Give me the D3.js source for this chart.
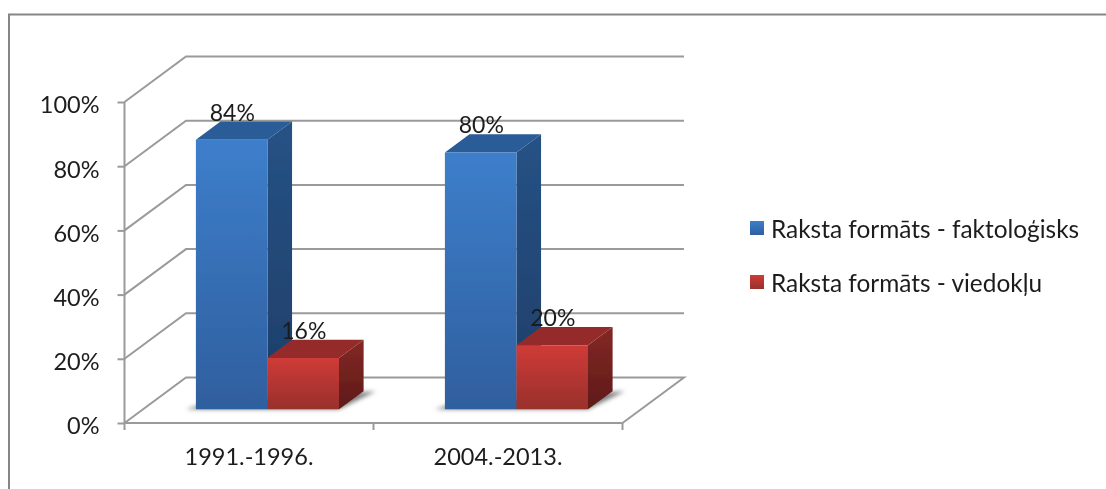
<!DOCTYPE html>
<html>
<head>
<meta charset="utf-8">
<script src="https://cdnjs.cloudflare.com/ajax/libs/d3/7.8.5/d3.min.js"></script>
<style>
body { margin: 0; background: #fff; overflow: hidden; }
text { font-family: Lato, "Open Sans", sans-serif; fill: #1c1c1c; }
</style>
</head>
<body>
<div id="chart"></div>
<script>
const categories = ['1991.-1996.', '2004.-2013.'];
const seriesNames = ['Raksta formāts - faktoloģisks', 'Raksta formāts - viedokļu'];
const factual = [84, 80];
const opinion = [16, 20];
const yTicks = [0, 20, 40, 60, 80, 100];

const width = 1106, height = 489;

const svg = d3.select('#chart').append('svg')
    .attr('width', width)
    .attr('height', height)
    .style('display', 'block');

const defs = svg.append('defs');

// slight softness, the reference is a scaled up screenshot
defs.append('filter').attr('id', 'soft')
    .attr('filterUnits', 'userSpaceOnUse')
    .attr('x', 0).attr('y', 0).attr('width', width).attr('height', height)
    .append('feGaussianBlur').attr('stdDeviation', 0.45);
defs.append('filter').attr('id', 'shadow')
    .attr('x', '-20%').attr('y', '-30%').attr('width', '140%').attr('height', '160%')
    .append('feGaussianBlur').attr('stdDeviation', 2);

const addGrad = (id, top, bottom) => {
    const g = defs.append('linearGradient').attr('id', id)
        .attr('x1', 0).attr('y1', 0).attr('x2', 0).attr('y2', 1);
    g.append('stop').attr('offset', '0%').attr('stop-color', top);
    g.append('stop').attr('offset', '100%').attr('stop-color', bottom);
};
addGrad('blueFront', '#3d7ecb', '#2f5f9e');
addGrad('blueSide', '#265285', '#1d3d68');
addGrad('redFront', '#cf3b37', '#98302c');
addGrad('redSide', '#842825', '#5e1a18');

const root = svg.append('g').attr('filter', 'url(#soft)');

// outer frame, only the top and left edges are in the picture
root.append('path')
    .attr('d', d3.line()([[9, 489], [9, 14.5], [1106, 14.5]]))
    .attr('fill', 'none')
    .attr('stroke', '#868686')
    .attr('stroke-width', 2);

const x = d3.scaleBand().domain(categories).range([124.5, 622.5]);
const y = d3.scaleLinear().domain([0, 100]).range([423, 102]);

// oblique projection: depth 0 is the front edge of the floor, 1 the back wall
const depthX = d3.scaleLinear().domain([0, 1]).range([0, 61.5]);
const depthY = d3.scaleLinear().domain([0, 1]).range([0, -45.5]);
const project = (px, value, depth) => [px + depthX(depth), y(value) + depthY(depth)];

const barInner = d3.scaleBand().domain(d3.range(2))
    .range([0, x.bandwidth()]).paddingInner(0).paddingOuter(0.74);

const gridColor = '#9a9a9a';
const xRight = x.range()[1], xLeft = x.range()[0];
const line = d3.line();

// walls and floor
const grid = root.append('g').attr('fill', 'none').attr('stroke', gridColor).attr('stroke-width', 2);
yTicks.forEach(t => {
    const pts = t === 0
        ? [project(xLeft, t, 0), project(xLeft, t, 1), project(xRight, t, 1), project(xRight, t, 0)]
        : [project(xLeft, t, 0), project(xLeft, t, 1), project(xRight, t, 1)];
    grid.append('path').attr('d', line(pts));
});
grid.append('path').attr('d', line([project(xLeft, 100, 0), project(xLeft, 0, 0), project(xRight, 0, 0)]));

// axes
const yAxis = d3.axisLeft(y).tickValues(yTicks).tickFormat(d => d + '%').tickSize(6).tickPadding(19);
const yG = root.append('g').attr('transform', `translate(${xLeft},0)`).call(yAxis);
yG.select('.domain').remove();
yG.selectAll('line').attr('x2', -7).attr('stroke', gridColor).attr('stroke-width', 2);
yG.selectAll('text').attr('font-size', 23.5).attr('font-family', null).attr('dy', '0.46em');

const xAxis = d3.axisBottom(x).tickSize(0).tickPadding(25);
const xG = root.append('g').attr('transform', `translate(0,${y(0)})`).call(xAxis);
xG.select('.domain').remove();
xG.selectAll('line').remove();
xG.selectAll('text').attr('font-size', 23.5).attr('font-family', null);
xG.selectAll('.edge')
    .data([xLeft, xLeft + x.step(), xRight])
    .join('line')
    .attr('class', 'edge')
    .attr('x1', d => d).attr('x2', d => d)
    .attr('y1', 0).attr('y2', 7)
    .attr('stroke', gridColor).attr('stroke-width', 2);

// bars sit between depth 0.3 and 0.7
const d0 = 0.3, d1 = 0.7;
const bars = [];
categories.forEach((c, i) => {
    bars.push({ c, s: 0, v: factual[i], front: 'blueFront', side: 'blueSide', top: '#2b5c98' });
    bars.push({ c, s: 1, v: opinion[i], front: 'redFront', side: 'redSide', top: '#952c29' });
});
const barX = d => x(d.c) + barInner(d.s);
const barW = barInner.bandwidth();

// floor shadows
categories.forEach(c => {
    const l = x(c) + barInner(0), r = x(c) + barInner(1) + barW;
    root.append('path')
        .attr('d', line([project(l - 10, 0, d0), project(l, 0, d0 + 0.12), project(r + 12, 0, d1), project(r, 0, d0)]) + 'Z')
        .attr('fill', '#7d7d7d')
        .attr('filter', 'url(#shadow)');
});

const barG = root.selectAll('.bar').data(bars).join('g').attr('class', 'bar');
barG.append('path') // side
    .attr('fill', d => `url(#${d.side})`)
    .attr('d', d => line([
        project(barX(d) + barW, d.v, d0), project(barX(d) + barW, d.v, d1),
        project(barX(d) + barW, 0, d1), project(barX(d) + barW, 0, d0)]) + 'Z');
barG.append('path') // top
    .attr('fill', d => d.top)
    .attr('d', d => line([
        project(barX(d), d.v, d0), project(barX(d), d.v, d1),
        project(barX(d) + barW, d.v, d1), project(barX(d) + barW, d.v, d0)]) + 'Z');
barG.append('path') // front
    .attr('fill', d => `url(#${d.front})`)
    .attr('d', d => line([
        project(barX(d), d.v, d0), project(barX(d) + barW, d.v, d0),
        project(barX(d) + barW, 0, d0), project(barX(d), 0, d0)]) + 'Z');

// value labels
root.selectAll('.val').data(bars).join('text')
    .attr('class', 'val')
    .attr('font-size', 23)
    .attr('text-anchor', 'middle')
    .attr('x', d => project(barX(d) + barW / 2, d.v, d1)[0] - 24)
    .attr('y', d => project(barX(d), d.v, d1)[1] - 1)
    .text(d => d.v + '%');

// legend
const legendY = d3.scalePoint().domain(seriesNames).range([231, 285]);
const legend = root.selectAll('.key').data(seriesNames).join('g')
    .attr('class', 'key')
    .attr('transform', d => `translate(750,${legendY(d)})`);
legend.append('rect')
    .attr('y', -10).attr('width', 14).attr('height', 14)
    .attr('fill', (d, i) => i === 0 ? 'url(#blueFront)' : 'url(#redFront)');
legend.append('text')
    .attr('x', 21).attr('y', 7)
    .attr('font-size', 24.4)
    .text(d => d);
</script>
</body>
</html>
